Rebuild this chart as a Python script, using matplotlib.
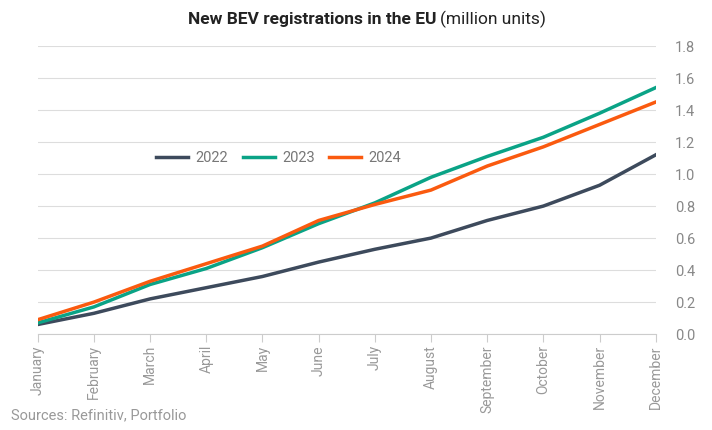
import matplotlib.pyplot as plt

months = ["January", "February", "March", "April", "May", "June", "July",
          "August", "September", "October", "November", "December"]
y2022 = [0.06, 0.13, 0.22, 0.29, 0.36, 0.45, 0.53, 0.60, 0.71, 0.80, 0.93, 1.12]
y2023 = [0.07, 0.17, 0.31, 0.41, 0.54, 0.69, 0.82, 0.98, 1.11, 1.23, 1.38, 1.54]
y2024 = [0.09, 0.20, 0.33, 0.44, 0.55, 0.71, 0.81, 0.90, 1.05, 1.17, 1.31, 1.45]
yticks = [0.0, 0.2, 0.4, 0.6, 0.8, 1.0, 1.2, 1.4, 1.6, 1.8]

plt.rcParams['font.family'] = ['Roboto', 'DejaVu Sans']

fig = plt.figure(figsize=(7.12, 4.3), dpi=100)
ax = fig.add_axes([0.053, 0.223, 0.868, 0.670])

x = range(len(months))
ax.plot(x, y2022, color="#3d4a5c", lw=2.5, label="2022")
ax.plot(x, y2023, color="#0aa386", lw=2.5, label="2023")
ax.plot(x, y2024, color="#fa5a0f", lw=2.5, label="2024")

ax.set_xlim(0, len(months) - 1)
ax.set_ylim(0, 1.8)
ax.set_yticks(yticks)
ax.set_yticklabels([f"{v:.1f}" for v in yticks])
ax.yaxis.tick_right()
ax.tick_params(axis="y", length=0, pad=14, labelsize=10.5, colors="#888888")
ax.set_xticks(list(x))
ax.set_xticklabels(months, rotation=90, va="top")
ax.tick_params(axis="x", length=6, color="#cccccc", labelsize=10,
               labelcolor="#999999", pad=2)
ax.grid(axis="y", color="#dddddd", lw=0.8)
for s in ["top", "right", "left"]:
    ax.spines[s].set_visible(False)
ax.spines["bottom"].set_color("#cccccc")

ax.legend(loc="upper left", bbox_to_anchor=(0.17, 0.68), ncol=3, frameon=False,
          fontsize=10.5, handlelength=2.2, columnspacing=1.0, handletextpad=0.5,
          labelcolor="#777777")

fig.text(0.613, 0.955, "New BEV registrations in the EU", ha="right", va="center",
         fontsize=12.5, fontweight="bold", color="#222222")
fig.text(0.618, 0.955, "(million units)", ha="left", va="center",
         fontsize=12.5, color="#222222")
fig.text(0.015, 0.025, "Sources: Refinitiv, Portfolio", fontsize=10.5,
         color="#999999")

fig.savefig("out.png", dpi=100)
